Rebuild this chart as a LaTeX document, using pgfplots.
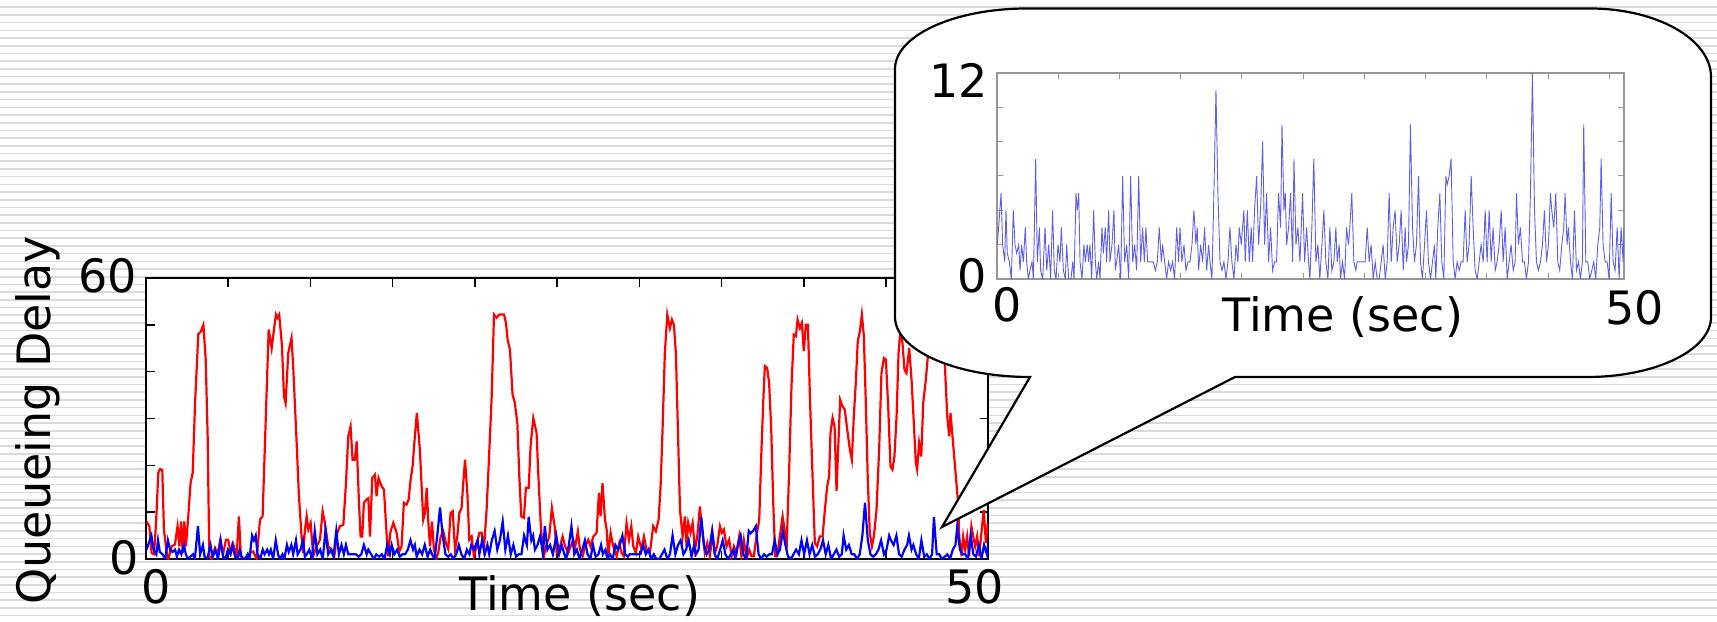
\documentclass[border=0pt]{standalone}
\usepackage{pgfplots}
\pgfplotsset{compat=1.18}
\usepackage{pgfplotstable}
\usepackage{fontspec}
\setmainfont{DejaVu Sans}
\definecolor{bgline}{RGB}{218,218,218}
\definecolor{insetblue}{RGB}{95,95,235}
\definecolor{insetframe}{RGB}{150,150,150}
\newcommand\lbl{\fontsize{23}{27}\selectfont}

% queueing delay, red flow
\pgfplotstableread{
x y
0.04 8.0
0.2 7
0.34 1.3
0.49 1
0.61 7.7
0.75 18.4
0.85 19.2
0.99 19
1.09 6.3
1.26 1.3
1.36 0
1.56 2.7
1.76 3.1
1.92 7
2.03 2.7
2.13 8
2.23 1.3
2.33 8
2.43 2.7
2.57 9.1
2.71 16.2
2.84 18.4
2.98 33
3.18 48
3.34 48.6
3.49 50
3.63 42.6
3.75 26
3.85 0.6
3.99 0
4.19 2.3
4.34 0.9
4.5 3.8
4.7 1.3
4.86 4.1
5.0 4.1
5.15 1.3
5.31 3.1
5.51 0.6
5.65 9.1
5.77 0.6
6.02 0
6.32 1.3
6.52 1.6
6.73 0
6.93 8.4
7.09 9.1
7.3 31.9
7.46 49
7.64 45
7.78 49
7.9 52.2
8.0 51.5
8.1 52.2
8.27 45.4
8.39 34.7
8.49 33.3
8.65 44
8.85 47.2
8.96 40.4
9.16 24.8
9.3 13.4
9.46 4.8
9.56 1.3
9.67 6.3
9.77 9.1
9.87 6.3
10.01 7.7
10.17 0.6
10.37 2.7
10.58 4.1
10.74 10.2
10.88 7.7
11.08 2.7
11.29 2
11.45 0.6
11.63 5.6
11.79 7
12.0 7.3
12.16 16.2
12.3 26.2
12.44 28.3
12.56 21.2
12.7 21.2
12.81 25.1
12.95 12
13.05 4.8
13.15 4.8
13.25 12
13.41 12.7
13.52 13
13.62 4.8
13.76 17.3
13.92 18
14.02 13.4
14.14 17.3
14.33 15.5
14.47 14.8
14.59 7.7
14.71 0.6
14.87 5.9
15.04 7.7
15.24 5.6
15.4 1.6
15.54 2.7
15.68 12
15.84 11.6
15.97 12.7
16.09 16.9
16.21 19.8
16.35 26.2
16.47 31.2
16.66 23
16.76 15.5
16.86 8.4
16.96 9.8
17.07 15.2
17.17 7.7
17.27 2.7
17.39 8
17.51 2
17.63 0
17.77 1.3
17.92 4.8
18.08 5.9
18.24 3.4
18.38 2.1
18.52 9.8
18.65 10.2
18.79 2
18.93 4.8
19.05 9.8
19.19 10.9
19.29 16.2
19.4 21.2
19.54 14.1
19.66 4.1
19.8 4.8
19.94 0.6
20.1 2.7
20.27 5.6
20.41 5.6
20.55 2
20.71 10.5
20.87 22.6
21.02 34.7
21.16 52.2
21.32 51.5
21.48 52.2
21.77 52.2
21.89 50.4
21.99 46.8
22.13 44.7
22.29 35.1
22.43 33.3
22.58 29
22.7 17.7
22.82 9.1
22.98 8.8
23.1 15.2
23.27 15.2
23.39 24.4
23.55 30.1
23.75 26.9
23.87 16.9
24.0 7.7
24.16 0
24.32 2.7
24.52 4.8
24.68 10.9
24.85 7
24.97 1.3
25.13 2
25.33 4.8
25.49 2.7
25.68 1.3
25.82 2.7
25.98 4.1
26.1 2.7
26.26 5.9
26.39 2
26.55 0.6
26.71 2.7
26.89 4.1
27.03 2.7
27.2 4.8
27.4 5.6
27.54 14.1
27.64 9.1
27.76 16.2
27.91 8.4
28.01 6.3
28.11 0.6
28.25 5.6
28.41 2.7
28.62 0.6
28.78 3.4
28.92 1.3
29.06 0.6
29.22 7.7
29.37 4.1
29.51 7
29.63 2.7
29.79 1.3
29.93 4.8
30.13 2
30.28 4.8
30.44 2
30.64 1.3
30.84 7
31.0 5.9
31.17 8.4
31.29 15.5
31.41 27.6
31.55 44
31.7 52.2
31.86 49.3
31.98 51.1
32.1 50
32.22 44
32.36 25.5
32.47 10.5
32.63 4.8
32.77 9.1
32.87 2.7
32.97 7.7
33.11 5.6
33.24 7.7
33.38 2
33.52 4.8
33.68 11.2
33.84 5.6
33.98 1.3
34.13 3.4
34.29 0.6
34.45 5.6
34.59 1.3
34.73 2.7
34.9 7
35.02 5.6
35.14 6.3
35.3 2.7
35.46 4.1
35.61 0.6
35.75 2.7
35.91 1.3
36.07 4.8
36.21 0.6
36.35 4.1
36.52 0
36.68 2
36.82 0.6
36.96 0.6
37.12 4.8
37.29 8.4
37.41 21.9
37.53 33.3
37.63 41.2
37.77 40.8
37.89 37.6
38.02 27.6
38.14 12
38.26 0.6
38.38 0.6
38.54 4.8
38.71 9.1
38.83 6.3
38.95 2
39.11 19.1
39.25 36.9
39.39 47.9
39.52 47.6
39.62 51.1
39.76 49.3
39.88 50.4
40.0 44.4
40.12 50
40.25 50
40.37 34.7
40.53 17.7
40.67 3.4
40.81 2.7
40.97 4.8
41.14 4.8
41.28 10.5
41.42 15.5
41.54 17.7
41.62 26.9
41.75 30.1
41.87 28.3
41.99 14.5
42.11 25.5
42.21 34
42.35 32.6
42.49 31.9
42.64 27.6
42.8 23.4
42.92 21.2
43.04 30.5
43.16 37.6
43.28 46.5
43.41 48.6
43.53 52.2
43.65 47.6
43.77 33.3
43.89 16.9
44.01 5.6
44.14 2.7
44.26 4.8
44.42 10.5
44.58 23.4
44.72 39.7
44.87 42.9
44.99 42.6
45.13 32.6
45.27 19.8
45.39 19.1
45.51 21.9
45.64 30.5
45.76 44
45.88 49
46.0 46.1
46.12 40.4
46.24 39.7
46.41 45
46.55 38.3
46.69 29
46.81 20.5
46.89 19.1
47.01 24.8
47.14 21.9
47.26 33.3
47.42 38.3
47.56 44
47.86 50
48.1 51
48.3 47
48.57 41.9
48.72 30.5
48.84 26.2
48.92 31.2
49.04 26.2
49.16 21.2
49.28 16.2
49.38 12
49.45 4.8
49.59 0.6
49.69 4.8
49.81 2
49.93 4.8
50.05 0.6
50.19 7
50.3 4.8
50.42 2.7
50.54 4.8
50.66 0.6
50.8 5.6
50.94 10.5
51.07 3.4
51.19 7.7
}\redtab

% queueing delay, blue flow (also shown magnified)
\pgfplotstableread{
x y
0.03 2
0.33 5
0.46 2
0.63 1
0.73 4
0.84 1.5
1.01 1
1.17 0
1.33 4
1.47 2
1.61 1.5
1.77 2
1.88 0.5
2.01 2
2.15 1
2.31 3
2.42 1
2.56 0
2.69 0.5
2.86 1
2.97 0
3.16 7
3.29 1
3.46 3
3.56 0.5
3.73 0
3.92 3
4.06 0.5
4.22 2
4.38 0
4.54 4
4.68 0.5
4.82 0
4.98 2
5.14 1
5.25 3
5.42 0.5
5.58 0
5.69 2
5.85 0
6.04 0
6.18 1
6.29 0
6.45 5
6.56 4
6.67 5
6.78 1
6.94 0
7.1 2
7.21 1
7.37 2
7.48 1
7.59 2
7.73 0
7.89 4
8.03 1
8.14 0
8.3 1
8.41 0
8.57 3
8.68 1.5
8.84 3
8.95 1
9.12 4
9.22 1
9.39 2
9.55 4
9.66 0.5
9.77 1
9.93 2
10.1 0
10.26 6
10.42 1
10.59 2
10.75 0
10.91 6
11.08 1
11.24 2
11.4 0.5
11.57 6
11.73 1
11.89 3
12.03 1
12.16 3
12.3 1
12.44 1
12.6 1
12.76 1
12.93 0.5
13.09 1
13.25 3
13.42 1
13.52 2
13.69 1
13.85 0
14.01 1
14.18 0.5
14.34 1
14.5 0
14.67 3
14.83 1
14.94 3
15.1 1
15.27 2
15.43 0.5
15.59 1
15.76 1
15.92 2
16.08 4
16.24 2
16.35 3
16.46 0.5
16.63 2
16.79 1
16.95 3
17.12 0.5
17.28 2
17.39 1
17.55 0
17.71 5
17.88 11
18.04 5
18.21 1
18.37 0.5
18.53 1
18.69 0
18.86 1
19.02 3
19.18 1
19.35 0
19.51 2
19.67 1
19.78 3
19.95 2
20.05 3
20.16 4
20.27 1
20.44 4
20.6 1
20.76 3
20.87 1
21.03 4
21.2 6
21.36 2
21.52 4
21.69 8
21.85 2
22.01 5
22.18 1
22.34 3
22.5 0.5
22.67 1
22.83 1
22.99 5
23.16 3
23.27 9
23.43 4
23.54 5
23.65 2
23.81 3
23.97 5
24.14 1
24.25 7
24.41 2
24.57 3
24.74 1
24.95 5
25.12 1
25.28 3
25.44 1
25.55 0
25.71 3
25.87 7
26.04 1
26.2 2
26.36 0
26.53 2
26.69 4
26.85 1
27.02 0
27.18 3
27.34 0.5
27.51 1
27.67 3
27.78 1
27.94 2
28.05 0
28.21 1
28.38 0
28.54 3
28.7 2
28.81 3
28.97 5
29.14 1
29.3 0.5
29.41 1
29.57 1
29.74 1
29.9 1
30.06 1
30.23 3
30.39 1
30.55 2
30.72 0
30.88 1
31.04 0
31.21 0
31.37 1
31.53 2
31.7 0
31.86 1
32.02 5
32.19 1
32.35 3
32.51 4
32.68 1
32.84 2
33.0 4
33.17 0.5
33.33 3
33.44 1
33.6 2
33.76 9
33.93 3
34.09 1
34.25 2
34.42 6
34.58 1
34.74 0
34.91 2
35.07 4
35.23 1
35.4 0
35.56 1
35.72 2
35.83 0
35.99 3
36.16 5
36.32 1
36.49 0
36.65 6
36.76 5.5
36.92 6
37.08 7
37.25 1
37.41 0
37.57 1
37.74 0.5
37.9 1
38.06 1
38.23 4
38.39 1
38.55 2
38.72 6
38.88 3
39.04 0.5
39.21 0
39.37 1
39.53 2
39.7 1
39.86 4
40.02 1
40.19 4
40.35 1
40.51 3
40.68 0.5
40.84 1
41.0 2
41.17 4
41.33 1
41.49 3
41.66 0
41.82 1
41.98 2
42.15 0.5
42.31 1
42.42 5
42.58 2
42.74 3
42.91 1
43.07 1
43.23 0
43.4 1
43.56 5
43.72 12
43.89 4
44.05 1
44.21 0.5
44.38 1
44.54 2
44.7 4
44.87 1
45.03 2
45.19 5
45.3 4
45.46 3
45.63 5
45.79 1
45.95 0.5
46.12 2
46.28 3
46.39 5
46.55 2
46.66 3
46.83 1
46.99 0
47.15 4
47.32 0.5
47.48 1
47.64 0
47.8 1
47.91 9
48.08 1
48.24 1
48.4 0
48.57 0.5
48.73 1
48.89 0
49.06 2
49.22 3
49.33 7
49.49 2
49.66 1
49.82 1
49.98 0
50.15 5
50.31 1
50.47 0.5
50.64 3
50.8 0
50.96 3
51.13 1
51.2 3
}\bluetab

\begin{document}
\begin{tikzpicture}
% slide background: thin horizontal rules, 1 unit = 1 px of the reference
\begin{scope}[x=0.5pt,y=0.5pt]
\path[use as bounding box] (0,0) rectangle (1717,621);
\foreach \k in {0,...,79} {
  \draw[bgline,line width=0.8pt] (0,{613.7-7.7*\k}) -- (1717,{613.7-7.7*\k});
}
\end{scope}

\begin{axis}[at={(73pt,31pt)},anchor=south west,scale only axis,
 width=421pt,height=140.5pt,
 xmin=0,xmax=51.2,ymin=0,ymax=60,
 xtick={0,5,...,50},ytick={0,10,...,60},xticklabels={},yticklabels={},
 tick align=inside,major tick length=4.25pt,
 axis line style={line width=0.75pt},
 every tick/.style={black,line width=0.75pt},
 axis background/.style={fill=white}]
 \addplot[red,line width=1.1pt] table {\redtab};
 \addplot[blue,line width=1.1pt] table {\bluetab};
\end{axis}

\begin{scope}[x=0.5pt,y=0.5pt]
% callout bubble
\draw[black,fill=white,line width=1.1pt]
 (1027,612.5) -- (1590,612.5)
 arc[start angle=90,end angle=0,x radius=121,y radius=68.5]
 -- (1711,304)
 arc[start angle=0,end angle=-90,x radius=124,y radius=60]
 -- (1235,244) -- (942,94) -- (1030,244)
 arc[start angle=270,end angle=180,x radius=135,y radius=60]
 -- (895,552)
 arc[start angle=180,end angle=90,x radius=132,y radius=60.5]
 -- cycle;
\end{scope}

\begin{axis}[at={(498.5pt,171pt)},anchor=south west,scale only axis,
 width=313.5pt,height=103pt,
 xmin=0,xmax=51.2,ymin=0,ymax=12,
 xtick={0,5,...,50},ytick={0,2,...,12},xticklabels={},yticklabels={},
 tick align=inside,major tick length=3pt,
 axis line style={insetframe,line width=0.6pt},
 every tick/.style={insetframe,line width=0.5pt}]
 \addplot[insetblue,line width=0.45pt] table {\bluetab};
\end{axis}

\begin{scope}[x=0.5pt,y=0.5pt,every node/.style={inner sep=0pt,font=\lbl}]
% main chart labels
\node[anchor=base east] at (137,328) {60};
\node[anchor=base east] at (139,47) {0};
\node[anchor=base west] at (141,18) {0};
\node[anchor=base west] at (945,18) {50};
\node[anchor=base west] at (459,11) {Time (sec)};
\node[anchor=base west,rotate=90] at (50,16) {Queueing Delay};
% inset labels
\node[anchor=base east] at (988,523) {12};
\node[anchor=base east] at (987,328) {0};
\node[anchor=base west] at (992,299) {0};
\node[anchor=base west] at (1222,289) {Time (sec)};
\node[anchor=base west] at (1605,296) {50};
\end{scope}
\end{tikzpicture}
\end{document}
